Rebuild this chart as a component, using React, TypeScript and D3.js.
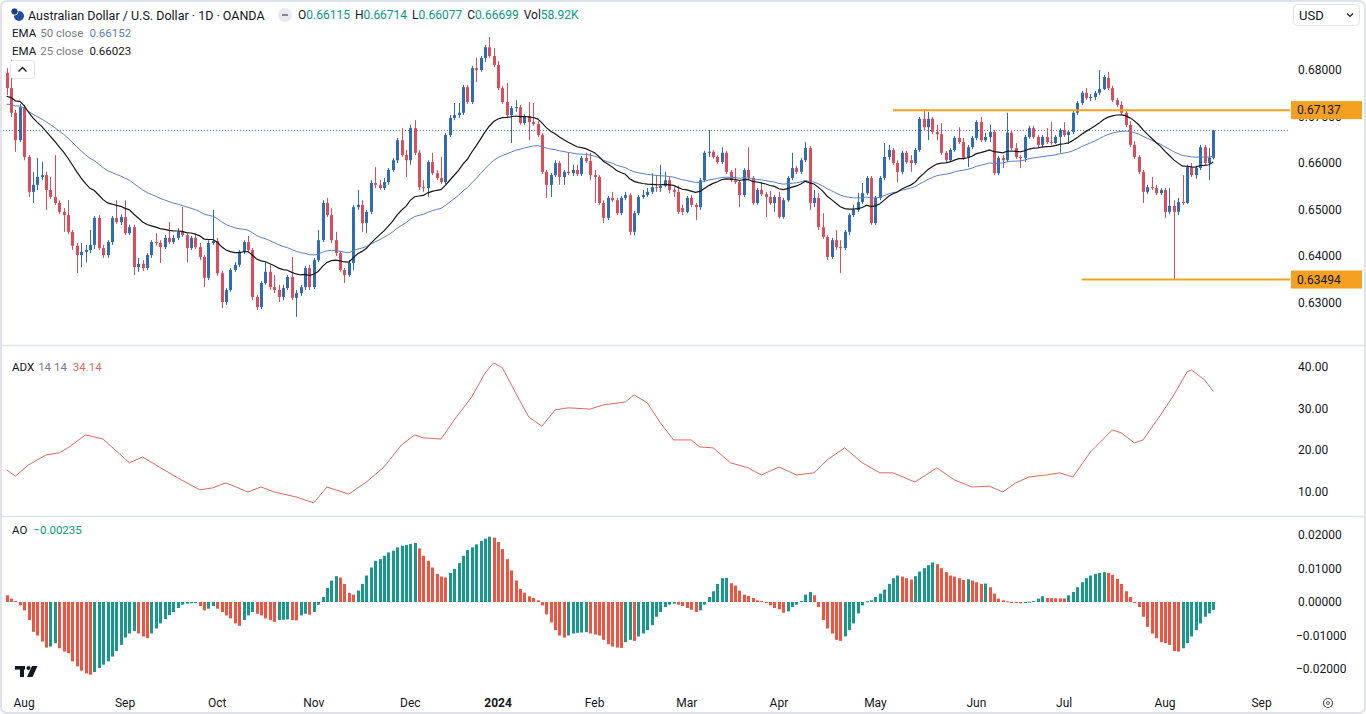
import React from "react";
import * as d3 from "d3";

// ---------------- DATA (AUD/USD daily, OANDA) ----------------
const OPEN = [
0.6794,0.6761,0.6708,0.6649,0.6720,0.6613,0.6538,0.6553,0.6570,0.6574,
0.6542,0.6527,0.6514,0.6495,0.6488,0.6452,0.6422,0.6402,0.6409,0.6413,
0.6424,0.6482,0.6417,0.6402,0.6430,0.6482,0.6473,0.6484,0.6449,0.6462,
0.6376,0.6383,0.6374,0.6402,0.6430,0.6428,0.6419,0.6439,0.6430,0.6439,
0.6452,0.6445,0.6417,0.6439,0.6419,0.6398,0.6353,0.6428,0.6432,0.6363,
0.6301,0.6327,0.6370,0.6381,0.6409,0.6430,0.6413,0.6312,0.6290,0.6342,
0.6366,0.6333,0.6327,0.6312,0.6331,0.6355,0.6310,0.6320,0.6333,0.6374,
0.6333,0.6391,0.6434,0.6514,0.6488,0.6434,0.6406,0.6370,0.6359,0.6385,
0.6505,0.6510,0.6471,0.6495,0.6557,0.6553,0.6546,0.6559,0.6585,0.6606,
0.6649,0.6617,0.6606,0.6675,0.6622,0.6548,0.6546,0.6602,0.6578,0.6568,
0.6559,0.6660,0.6697,0.6703,0.6708,0.6763,0.6731,0.6804,0.6800,0.6826,
0.6849,0.6830,0.6811,0.6761,0.6731,0.6703,0.6718,0.6720,0.6686,0.6701,
0.6688,0.6684,0.6660,0.6581,0.6553,0.6574,0.6600,0.6570,0.6581,0.6578,
0.6585,0.6576,0.6611,0.6604,0.6574,0.6570,0.6514,0.6482,0.6525,0.6520,
0.6492,0.6525,0.6531,0.6452,0.6492,0.6527,0.6531,0.6538,0.6548,0.6546,
0.6551,0.6563,0.6542,0.6538,0.6503,0.6495,0.6525,0.6510,0.6505,0.6563,
0.6622,0.6624,0.6613,0.6602,0.6622,0.6581,0.6563,0.6559,0.6531,0.6585,
0.6568,0.6514,0.6542,0.6533,0.6527,0.6514,0.6527,0.6484,0.6520,0.6568,
0.6589,0.6581,0.6606,0.6632,0.6514,0.6525,0.6462,0.6441,0.6398,0.6434,
0.6419,0.6417,0.6452,0.6488,0.6499,0.6516,0.6535,0.6568,0.6471,0.6525,
0.6568,0.6613,0.6628,0.6600,0.6581,0.6622,0.6606,0.6600,0.6628,0.6695,
0.6677,0.6695,0.6667,0.6662,0.6622,0.6606,0.6628,0.6654,0.6645,0.6611,
0.6634,0.6654,0.6688,0.6649,0.6656,0.6667,0.6578,0.6611,0.6606,0.6665,
0.6632,0.6613,0.6611,0.6656,0.6675,0.6656,0.6639,0.6656,0.6645,0.6643,
0.6656,0.6671,0.6660,0.6667,0.6708,0.6729,0.6751,0.6740,0.6742,0.6751,
0.6759,0.6783,0.6761,0.6735,0.6725,0.6708,0.6682,0.6639,0.6613,0.6581,
0.6538,0.6548,0.6546,0.6535,0.6542,0.6495,0.6508,0.6495,0.6516,0.6514,
0.6591,0.6574,0.6589,0.6634,0.6600,0.66115];

const HIGH = [
0.6804,0.6822,0.6714,0.6727,0.6725,0.6617,0.6581,0.6611,0.6602,0.6581,
0.6570,0.6617,0.6520,0.6503,0.6520,0.6456,0.6428,0.6428,0.6424,0.6456,
0.6486,0.6488,0.6424,0.6434,0.6486,0.6520,0.6490,0.6520,0.6467,0.6467,
0.6396,0.6391,0.6406,0.6434,0.6449,0.6434,0.6445,0.6473,0.6445,0.6460,
0.6505,0.6449,0.6443,0.6445,0.6428,0.6402,0.6434,0.6499,0.6439,0.6368,
0.6331,0.6374,0.6387,0.6413,0.6434,0.6443,0.6417,0.6316,0.6346,0.6387,
0.6381,0.6359,0.6338,0.6338,0.6359,0.6398,0.6327,0.6338,0.6379,0.6381,
0.6396,0.6456,0.6520,0.6525,0.6503,0.6452,0.6411,0.6374,0.6391,0.6510,
0.6542,0.6520,0.6499,0.6563,0.6591,0.6563,0.6568,0.6589,0.6611,0.6654,
0.6675,0.6628,0.6682,0.6692,0.6628,0.6563,0.6606,0.6622,0.6585,0.6613,
0.6665,0.6703,0.6729,0.6729,0.6768,0.6768,0.6809,0.6826,0.6830,0.6854,
0.6871,0.6847,0.6819,0.6766,0.6772,0.6723,0.6735,0.6725,0.6705,0.6731,
0.6729,0.6690,0.6665,0.6585,0.6578,0.6606,0.6604,0.6585,0.6622,0.6596,
0.6596,0.6615,0.6622,0.6622,0.6585,0.6574,0.6520,0.6529,0.6538,0.6525,
0.6529,0.6538,0.6535,0.6497,0.6531,0.6542,0.6546,0.6578,0.6574,0.6596,
0.6581,0.6570,0.6548,0.6551,0.6510,0.6529,0.6531,0.6514,0.6568,0.6626,
0.6671,0.6628,0.6617,0.6634,0.6626,0.6585,0.6589,0.6563,0.6589,0.6634,
0.6572,0.6546,0.6557,0.6538,0.6540,0.6531,0.6538,0.6525,0.6572,0.6622,
0.6594,0.6611,0.6645,0.6637,0.6542,0.6535,0.6492,0.6445,0.6439,0.6456,
0.6434,0.6456,0.6492,0.6510,0.6535,0.6557,0.6572,0.6572,0.6529,0.6572,
0.6643,0.6639,0.6632,0.6606,0.6626,0.6626,0.6617,0.6632,0.6699,0.6716,
0.6710,0.6699,0.6682,0.6686,0.6626,0.6632,0.6658,0.6677,0.6654,0.6639,
0.6658,0.6692,0.6699,0.6665,0.6682,0.6671,0.6615,0.6617,0.6708,0.6669,
0.6643,0.6617,0.6660,0.6680,0.6680,0.6660,0.6660,0.6675,0.6688,0.6660,
0.6675,0.6688,0.6671,0.6712,0.6733,0.6755,0.6761,0.6748,0.6755,0.6800,
0.6789,0.6796,0.6766,0.6740,0.6733,0.6712,0.6690,0.6647,0.6617,0.6585,
0.6553,0.6570,0.6553,0.6546,0.6546,0.6546,0.6520,0.6525,0.6574,0.6596,
0.6600,0.6594,0.6639,0.6639,0.6632,0.66714];

const LOW = [
0.6746,0.6699,0.6624,0.6645,0.6606,0.6527,0.6514,0.6542,0.6563,0.6499,
0.6523,0.6510,0.6490,0.6452,0.6447,0.6413,0.6363,0.6376,0.6387,0.6406,
0.6415,0.6413,0.6396,0.6396,0.6424,0.6469,0.6467,0.6445,0.6445,0.6359,
0.6366,0.6368,0.6370,0.6396,0.6422,0.6385,0.6415,0.6426,0.6426,0.6434,
0.6441,0.6387,0.6413,0.6415,0.6391,0.6333,0.6348,0.6424,0.6357,0.6288,
0.6295,0.6323,0.6366,0.6376,0.6404,0.6409,0.6305,0.6284,0.6286,0.6338,
0.6327,0.6320,0.6301,0.6305,0.6327,0.6305,0.6269,0.6314,0.6327,0.6327,
0.6329,0.6387,0.6430,0.6484,0.6428,0.6400,0.6366,0.6342,0.6355,0.6370,
0.6499,0.6452,0.6449,0.6490,0.6546,0.6542,0.6542,0.6553,0.6581,0.6600,
0.6613,0.6570,0.6596,0.6617,0.6542,0.6538,0.6527,0.6574,0.6563,0.6555,
0.6555,0.6656,0.6692,0.6697,0.6703,0.6727,0.6727,0.6774,0.6796,0.6817,
0.6826,0.6806,0.6757,0.6727,0.6699,0.6643,0.6710,0.6682,0.6682,0.6649,
0.6680,0.6656,0.6576,0.6525,0.6527,0.6570,0.6553,0.6553,0.6574,0.6572,
0.6572,0.6572,0.6600,0.6563,0.6514,0.6510,0.6471,0.6477,0.6516,0.6488,
0.6488,0.6520,0.6445,0.6445,0.6488,0.6523,0.6527,0.6533,0.6538,0.6538,
0.6548,0.6535,0.6527,0.6490,0.6488,0.6492,0.6505,0.6477,0.6499,0.6559,
0.6613,0.6609,0.6598,0.6598,0.6576,0.6559,0.6555,0.6505,0.6527,0.6563,
0.6510,0.6510,0.6529,0.6484,0.6510,0.6495,0.6480,0.6480,0.6516,0.6563,
0.6576,0.6576,0.6602,0.6499,0.6505,0.6456,0.6437,0.6391,0.6394,0.6413,
0.6363,0.6413,0.6445,0.6484,0.6495,0.6512,0.6531,0.6467,0.6467,0.6520,
0.6563,0.6606,0.6596,0.6559,0.6576,0.6598,0.6581,0.6596,0.6624,0.6671,
0.6649,0.6662,0.6649,0.6617,0.6602,0.6602,0.6624,0.6641,0.6606,0.6591,
0.6630,0.6649,0.6645,0.6645,0.6645,0.6574,0.6574,0.6589,0.6602,0.6628,
0.6609,0.6589,0.6602,0.6652,0.6652,0.6634,0.6634,0.6641,0.6639,0.6641,
0.6622,0.6656,0.6641,0.6662,0.6703,0.6725,0.6735,0.6733,0.6735,0.6746,
0.6757,0.6757,0.6731,0.6720,0.6703,0.6677,0.6634,0.6609,0.6576,0.6514,
0.6533,0.6542,0.6531,0.6531,0.6482,0.6490,0.63494,0.6488,0.6510,0.6512,
0.6570,0.6566,0.6585,0.6596,0.6563,0.66077];

const CLOSE = [
0.6761,0.6708,0.6649,0.6720,0.6613,0.6538,0.6553,0.6570,0.6574,0.6542,
0.6527,0.6514,0.6495,0.6488,0.6452,0.6422,0.6402,0.6409,0.6413,0.6424,
0.6482,0.6417,0.6402,0.6430,0.6482,0.6473,0.6484,0.6449,0.6462,0.6376,
0.6383,0.6374,0.6402,0.6430,0.6428,0.6419,0.6439,0.6430,0.6439,0.6452,
0.6445,0.6417,0.6439,0.6419,0.6398,0.6353,0.6428,0.6432,0.6363,0.6301,
0.6327,0.6370,0.6381,0.6409,0.6430,0.6413,0.6312,0.6290,0.6342,0.6366,
0.6333,0.6327,0.6312,0.6331,0.6355,0.6310,0.6320,0.6333,0.6374,0.6333,
0.6391,0.6434,0.6514,0.6488,0.6434,0.6406,0.6370,0.6359,0.6385,0.6505,
0.6510,0.6471,0.6495,0.6557,0.6553,0.6546,0.6559,0.6585,0.6606,0.6649,
0.6617,0.6606,0.6675,0.6622,0.6548,0.6546,0.6602,0.6578,0.6568,0.6559,
0.6660,0.6697,0.6703,0.6708,0.6763,0.6731,0.6804,0.6800,0.6826,0.6849,
0.6830,0.6811,0.6761,0.6731,0.6703,0.6718,0.6720,0.6686,0.6701,0.6688,
0.6684,0.6660,0.6581,0.6553,0.6574,0.6600,0.6570,0.6581,0.6578,0.6585,
0.6576,0.6611,0.6604,0.6574,0.6570,0.6514,0.6482,0.6525,0.6520,0.6492,
0.6525,0.6531,0.6452,0.6492,0.6527,0.6531,0.6538,0.6548,0.6546,0.6551,
0.6563,0.6542,0.6538,0.6495,0.6495,0.6525,0.6510,0.6505,0.6563,0.6622,
0.6624,0.6613,0.6602,0.6622,0.6581,0.6563,0.6559,0.6531,0.6585,0.6568,
0.6514,0.6542,0.6533,0.6527,0.6514,0.6527,0.6484,0.6520,0.6568,0.6589,
0.6581,0.6606,0.6632,0.6514,0.6525,0.6462,0.6441,0.6398,0.6434,0.6419,
0.6417,0.6452,0.6488,0.6499,0.6516,0.6535,0.6568,0.6471,0.6525,0.6568,
0.6613,0.6628,0.6600,0.6581,0.6622,0.6602,0.6600,0.6628,0.6695,0.6677,
0.6695,0.6667,0.6662,0.6622,0.6606,0.6628,0.6654,0.6645,0.6611,0.6634,
0.6654,0.6688,0.6649,0.6656,0.6667,0.6578,0.6611,0.6606,0.6665,0.6632,
0.6613,0.6611,0.6656,0.6675,0.6656,0.6639,0.6656,0.6645,0.6643,0.6656,
0.6671,0.6660,0.6667,0.6708,0.6729,0.6751,0.6740,0.6742,0.6751,0.6759,
0.6785,0.6761,0.6735,0.6725,0.6708,0.6682,0.6639,0.6613,0.6581,0.6538,
0.6548,0.6546,0.6535,0.6542,0.6495,0.6508,0.6495,0.6516,0.6514,0.6591,
0.6574,0.6589,0.6634,0.6600,0.66115,0.66699];

const AO = [
0.0020,0.0010,0.0003,-0.0010,-0.0025,-0.0054,-0.0089,-0.0100,-0.0118,-0.0136,
-0.0133,-0.0123,-0.0138,-0.0148,-0.0153,-0.0177,-0.0192,-0.0205,-0.0213,-0.0217,
-0.0209,-0.0197,-0.0187,-0.0177,-0.0163,-0.0146,-0.0128,-0.0106,-0.0094,-0.0087,
-0.0094,-0.0103,-0.0108,-0.0094,-0.0079,-0.0064,-0.0051,-0.0039,-0.0030,-0.0018,
-0.0008,-0.0005,-0.0004,-0.0003,-0.0012,-0.0025,-0.0020,-0.0012,-0.0020,-0.0030,
-0.0040,-0.0049,-0.0064,-0.0071,-0.0054,-0.0040,-0.0030,-0.0035,-0.0040,-0.0049,
-0.0054,-0.0059,-0.0054,-0.0053,-0.0052,-0.0054,-0.0055,-0.0040,-0.0035,-0.0038,
-0.0030,-0.0008,0.0015,0.0042,0.0064,0.0077,0.0073,0.0054,0.0027,0.0022,
0.0034,0.0054,0.0079,0.0103,0.0123,0.0128,0.0138,0.0148,0.0153,0.0163,
0.0168,0.0170,0.0173,0.0176,0.0160,0.0138,0.0123,0.0103,0.0084,0.0076,
0.0073,0.0087,0.0099,0.0116,0.0138,0.0155,0.0163,0.0172,0.0182,0.0189,
0.0195,0.0192,0.0179,0.0158,0.0128,0.0094,0.0064,0.0039,0.0028,0.0017,
0.0012,0.0005,-0.0010,-0.0037,-0.0061,-0.0084,-0.0100,-0.0106,-0.0100,-0.0094,
-0.0092,-0.0091,-0.0090,-0.0094,-0.0097,-0.0100,-0.0113,-0.0126,-0.0133,-0.0136,
-0.0137,-0.0120,-0.0113,-0.0116,-0.0103,-0.0094,-0.0084,-0.0069,-0.0044,-0.0030,
-0.0015,-0.0008,-0.0005,-0.0008,-0.0012,-0.0018,-0.0023,-0.0030,-0.0025,-0.0008,
0.0015,0.0032,0.0054,0.0071,0.0072,0.0056,0.0049,0.0034,0.0022,0.0018,
0.0012,0.0005,0.0003,-0.0002,-0.0010,-0.0018,-0.0022,-0.0032,-0.0028,-0.0015,
-0.0008,0.0003,0.0022,0.0030,0.0020,-0.0015,-0.0054,-0.0079,-0.0094,-0.0113,
-0.0116,-0.0103,-0.0084,-0.0064,-0.0034,-0.0010,0.0002,0.0005,0.0015,0.0025,
0.0037,0.0054,0.0071,0.0079,0.0076,0.0071,0.0067,0.0077,0.0091,0.0101,
0.0110,0.0118,0.0113,0.0101,0.0089,0.0079,0.0076,0.0071,0.0066,0.0068,
0.0064,0.0059,0.0054,0.0055,0.0044,0.0025,0.0010,0.0005,0.0002,-0.0002,
-0.0003,-0.0004,-0.0002,0.0001,0.0003,0.0010,0.0017,0.0012,0.00115,0.00112,
0.00108,0.00105,0.0020,0.0030,0.0044,0.0059,0.0071,0.0079,0.0084,0.0087,
0.0089,0.0087,0.0081,0.0069,0.0054,0.0032,0.0015,-0.0002,-0.0015,-0.0044,
-0.0074,-0.0094,-0.0108,-0.0120,-0.0123,-0.0128,-0.0146,-0.0148,-0.0138,-0.0123,
-0.0103,-0.0084,-0.0064,-0.0044,-0.0034,-0.00235];

// ADX(14,14) read at these bars
const ADX_BAR = [0,2,5,9,12,14,18,22,28,31,34,39,44,47,50,55,58,61,66,70,73,78,82,86,90,93,95,99,102,106,109,111,113,116,119,122,125,128,133,136,141,143,146,149,152,156,158,161,165,169,172,176,180,184,187,191,195,199,202,207,212,216,220,224,227,230,233,237,240,243,247,252,254,257,259,263,266,269,270,273,275];
const ADX_VAL = [15.3,13.8,16.5,18.9,19.4,20.6,23.7,22.7,17.0,18.4,16.5,13.4,10.5,11.0,12.2,10.0,11.2,10.0,8.8,7.4,11.2,9.5,12.4,16.0,21.3,23.7,23.0,22.7,27.3,32.8,38.5,41.0,39.8,33.8,28.0,25.8,29.7,30.2,29.9,30.9,31.6,33.3,31.4,26.6,22.5,22.5,20.8,20.6,17.0,15.8,14.1,16.0,14.1,14.6,17.7,20.6,17.0,14.6,14.6,12.4,15.8,12.9,11.2,11.4,10.0,12.2,13.6,14.1,14.6,13.6,19.6,24.9,24.2,21.8,22.5,28.5,33.3,38.8,39.3,36.9,34.14];

const PRICE_TICKS = [0.63, 0.64, 0.65, 0.66, 0.67, 0.68];
const ADX_TICKS = [10, 20, 30, 40];
const AO_TICKS = [-0.02, -0.01, 0, 0.01, 0.02];
const EMA_SEED_25 = 0.6742;
const EMA_SEED_50 = 0.6725;
const H_LEVELS = [0.67137, 0.63494];
const H_LEVEL_START = [202, 245];
const MARKET_HOLIDAYS = ["2023-12-25", "2024-01-01"];
const LEGEND_OHLC = ["0.66115", "0.66714", "0.66077", "0.66699"];
const LEGEND_VOL = "58.92K";
const LEGEND_EMA50 = "0.66152";
const LEGEND_EMA25 = "0.66023";
const LEGEND_ADX = "34.14";
const LEGEND_AO = "\u22120.00235";

// ---------------- STYLE ----------------
const FONT = "Roboto, 'Liberation Sans', Arial, sans-serif";
const TXT = "#131722";
const GRAY = "#787b86";
const TEAL = "#089981";
const UP = "#2e6cb6";
const DOWN = "#dc4c5b";
const EMA50C = "#5a80c2";
const EMA25C = "#161616";
const AO_UP = "#17988a";
const AO_DN = "#f0533f";
const ADX_C = "#e2695c";
const ORANGE = "#f5a11f";
const SEP = "#e0e3eb";

const W = 1366, H = 714;
const PLOT_R = 1290;

function emaSeries(vals: number[], period: number, seed: number) {
  const a = 2 / (period + 1);
  let prev = seed;
  return vals.map((v) => (prev = prev + a * (v - prev)));
}

function buildDates(): Date[] {
  const out: Date[] = [];
  const d = new Date(2023, 6, 26);
  const end = new Date(2024, 8, 30);
  const fmt = d3.timeFormat("%Y-%m-%d");
  while (d <= end) {
    const wd = d.getDay();
    if (wd !== 0 && wd !== 6 && !MARKET_HOLIDAYS.includes(fmt(d))) out.push(new Date(d));
    d.setDate(d.getDate() + 1);
  }
  return out;
}

export default function App() {
  const n = CLOSE.length;
  const x = d3.scaleLinear().domain([0, n - 1]).range([6.6, 1213.3]);
  const py = d3.scaleLinear().domain([0.63, 0.68]).range([302.5, 70]);
  const ay = d3.scaleLinear().domain([10, 40]).range([492, 367]);
  const oy = d3.scaleLinear().domain([-0.02, 0.02]).range([669, 535]);

  const ema25 = emaSeries(CLOSE, 25, EMA_SEED_25);
  const ema50 = emaSeries(CLOSE, 50, EMA_SEED_50);
  const lineP = d3.line<number>().x((_, i) => x(i)).y((v) => py(v));
  const adxLine = d3.line<number>().x((_, i) => x(ADX_BAR[i])).y((v) => ay(v));

  const dates = buildDates();
  const ticks: { i: number; label: string; bold: boolean }[] = [];
  for (let j = 1; j < dates.length; j++) {
    if (dates[j].getMonth() !== dates[j - 1].getMonth()) {
      const isYear = dates[j].getMonth() === 0;
      const xx = x(j);
      if (xx < PLOT_R - 10)
        ticks.push({ i: j, label: isYear ? d3.timeFormat("%Y")(dates[j]) : d3.timeFormat("%b")(dates[j]), bold: isYear });
    }
  }

  const last = CLOSE[n - 1];
  const fmt5 = (v: number) => v.toFixed(5);
  const fmt2 = (v: number) => v.toFixed(2);
  const fmtAo = (v: number) => (v < 0 ? "\u2212" + Math.abs(v).toFixed(5) : v.toFixed(5));

  return (
    <svg width={W} height={H} viewBox={`0 0 ${W} ${H}`} style={{ display: "block", fontFamily: FONT, background: "#fff" }}>
      <style>{`body{margin:0;background:#fff}`}</style>
      <defs>
        <clipPath id="cp-price"><rect x={0} y={0} width={PLOT_R} height={345} /></clipPath>
        <clipPath id="cp-adx"><rect x={0} y={346} width={PLOT_R} height={170} /></clipPath>
        <clipPath id="cp-ao"><rect x={0} y={517} width={PLOT_R} height={169} /></clipPath>
      </defs>
      <rect x={0} y={0} width={W} height={H} fill="#fff" />

      {/* separators */}
      <line x1={0} x2={W} y1={345.5} y2={345.5} stroke={SEP} strokeWidth={1.5} />
      <line x1={0} x2={W} y1={516.5} y2={516.5} stroke={SEP} strokeWidth={1.5} />

      {/* ---------- price pane ---------- */}
      <g clipPath="url(#cp-price)">
        <line x1={0} x2={PLOT_R} y1={py(last)} y2={py(last)} stroke="#5b7fbd" strokeWidth={1} strokeDasharray="1 2" />
        {CLOSE.map((c, i) => {
          const o = OPEN[i];
          const col = c >= o ? UP : DOWN;
          const cx = Math.round(x(i));
          const top = py(Math.max(o, c));
          const bot = py(Math.min(o, c));
          return (
            <g key={i}>
              <line x1={cx + 0.5} x2={cx + 0.5} y1={py(HIGH[i])} y2={py(LOW[i])} stroke={col} strokeWidth={1} />
              <rect x={cx - 1} y={top} width={3} height={Math.max(1, bot - top)} fill={col} />
            </g>
          );
        })}
        <path d={lineP(ema50) || ""} fill="none" stroke={EMA50C} strokeWidth={1} />
        <path d={lineP(ema25) || ""} fill="none" stroke={EMA25C} strokeWidth={1.2} />
        {H_LEVELS.map((lv, k) => (
          <line key={k} x1={x(H_LEVEL_START[k])} x2={PLOT_R} y1={py(lv)} y2={py(lv)} stroke={ORANGE} strokeWidth={2} />
        ))}
      </g>

      {/* price axis */}
      {PRICE_TICKS.map((t) => (
        <text key={t} x={1298} y={py(t)} fontSize={12} fill={TXT} dominantBaseline="central">{fmt5(t)}</text>
      ))}
      {H_LEVELS.map((lv, k) => (
        <g key={k}>
          <rect x={1291} y={py(lv) - 9} width={71} height={18} fill={ORANGE} />
          <text x={1297} y={py(lv)} fontSize={12} fill={TXT} dominantBaseline="central">{fmt5(lv)}</text>
        </g>
      ))}

      {/* header */}
      <circle cx={19} cy={16} r={5} fill="#1f4fa3" />
      <circle cx={14.5} cy={11.5} r={3.6} fill="#1d3c78" stroke="#fff" strokeWidth={0.8} />
      <text x={28} y={15} fontSize={12.5} fill={TXT} dominantBaseline="central">Australian Dollar / U.S. Dollar · 1D · OANDA</text>
      <circle cx={285} cy={15} r={7} fill="#e9ebf0" />
      <line x1={282} x2={288} y1={15} y2={15} stroke="#6a6d78" strokeWidth={1.6} />
      <text x={298} y={15} fontSize={12} dominantBaseline="central">
        <tspan fill={TXT}>O</tspan><tspan fill={TEAL}>{LEGEND_OHLC[0]}</tspan>
        <tspan fill={TXT} dx={5}>H</tspan><tspan fill={TEAL}>{LEGEND_OHLC[1]}</tspan>
        <tspan fill={TXT} dx={5}>L</tspan><tspan fill={TEAL}>{LEGEND_OHLC[2]}</tspan>
        <tspan fill={TXT} dx={5}>C</tspan><tspan fill={TEAL}>{LEGEND_OHLC[3]}</tspan>
        <tspan fill={TXT} dx={5}>Vol</tspan><tspan fill={TEAL}>{LEGEND_VOL}</tspan>
      </text>
      <text x={12} y={33} fontSize={11.5} dominantBaseline="central">
        <tspan fill={TXT}>EMA</tspan><tspan fill={GRAY} dx={4}>50 close</tspan><tspan fill={EMA50C} dx={6}>{LEGEND_EMA50}</tspan>
      </text>
      <text x={12} y={51} fontSize={11.5} dominantBaseline="central">
        <tspan fill={TXT}>EMA</tspan><tspan fill={GRAY} dx={4}>25 close</tspan><tspan fill={EMA25C} dx={6}>{LEGEND_EMA25}</tspan>
      </text>
      <rect x={10.5} y={60.5} width={24} height={18} rx={3} fill="#fff" stroke={SEP} />
      <path d="M18.5 71.5 L22.5 67.5 L26.5 71.5" fill="none" stroke={TXT} strokeWidth={1.3} />

      {/* USD box */}
      <rect x={1293.5} y={4.5} width={66} height={21} rx={4} fill="#fff" stroke={SEP} />
      <text x={1299} y={15.5} fontSize={13} fill={TXT} dominantBaseline="central">USD</text>
      <path d="M1347 13.5 L1350 16.5 L1353 13.5" fill="none" stroke={TXT} strokeWidth={1.1} />

      {/* ---------- ADX pane ---------- */}
      <g clipPath="url(#cp-adx)">
        <path d={adxLine(ADX_VAL) || ""} fill="none" stroke={ADX_C} strokeWidth={1} />
      </g>
      <text x={12} y={367} fontSize={11.5} dominantBaseline="central">
        <tspan fill={TXT}>ADX</tspan><tspan fill={GRAY} dx={4}>14 14</tspan><tspan fill={ADX_C} dx={6}>{LEGEND_ADX}</tspan>
      </text>
      {ADX_TICKS.map((t) => (
        <text key={t} x={1298} y={ay(t)} fontSize={12} fill={TXT} dominantBaseline="central">{fmt2(t)}</text>
      ))}

      {/* ---------- AO pane ---------- */}
      <g clipPath="url(#cp-ao)">
        {AO.map((v, i) => {
          const col = i > 0 && v >= AO[i - 1] ? AO_UP : AO_DN;
          const cx = Math.round(x(i));
          const y0 = oy(0), y1 = oy(v);
          const top = Math.min(y0, y1);
          const h = Math.max(1, Math.abs(y1 - y0));
          return <rect key={i} x={cx - 1} y={top} width={3} height={h} fill={col} />;
        })}
      </g>
      <text x={12} y={530} fontSize={11.5} dominantBaseline="central">
        <tspan fill={TXT}>AO</tspan><tspan fill={TEAL} dx={6}>{LEGEND_AO}</tspan>
      </text>
      {AO_TICKS.map((t) => (
        <text key={t} x={t < 0 ? 1296 : 1298} y={oy(t)} fontSize={12} fill={TXT} dominantBaseline="central">{fmtAo(t)}</text>
      ))}

      {/* TradingView logo */}
      <g fill={TXT}>
        <rect x={15} y={666} width={10} height={3.6} />
        <rect x={20} y={666} width={4} height={11} />
        <circle cx={28.5} cy={668} r={2} />
        <polygon points="32,666 37.5,666 32.5,677 27,677" />
      </g>

      {/* time axis */}
      {ticks.map((t) => (
        <text key={t.i} x={x(t.i)} y={703} fontSize={12} fill={TXT} textAnchor="middle" dominantBaseline="central" fontWeight={t.bold ? 700 : 400}>{t.label}</text>
      ))}
      <circle cx={1328} cy={703} r={4.5} fill="none" stroke="#555" strokeWidth={1.2} />
      <circle cx={1328} cy={703} r={1.5} fill="none" stroke="#555" strokeWidth={1} />

      {/* frame */}
      <rect x={1} y={1} width={W - 2} height={H - 2} rx={6} fill="none" stroke="#dfe2e8" strokeWidth={2} />
    </svg>
  );
}
